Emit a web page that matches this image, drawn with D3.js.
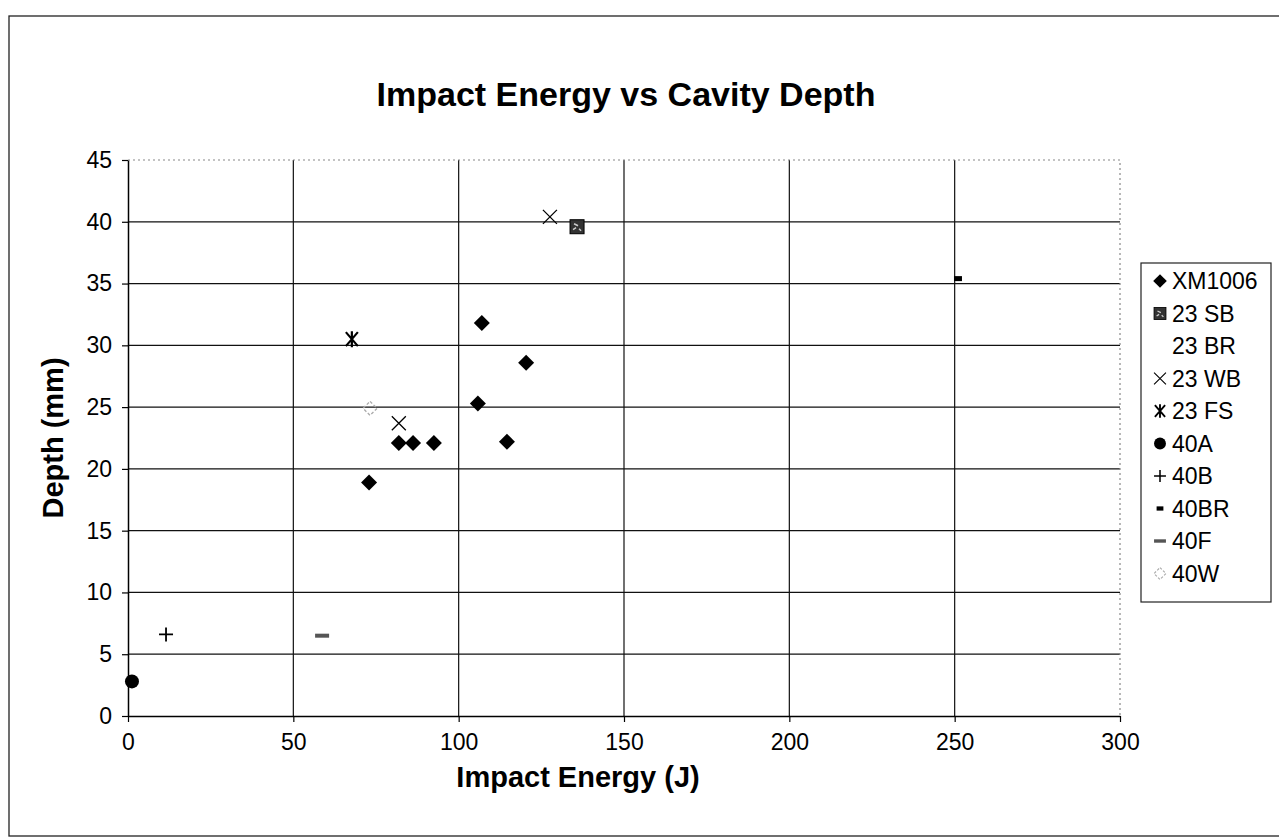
<!DOCTYPE html>
<meta charset="utf-8">
<script src="https://d3js.org/d3.v7.min.js"></script>
<style>
  body { margin: 0; background: #fff; }
  text { font-family: "Liberation Sans", Arial, sans-serif; fill: #000; }
</style>
<div id="chart"></div>
<script>

// data
var seriesNames = ["XM1006", "23 SB", "23 BR", "23 WB", "23 FS", "40A", "40B", "40BR", "40F", "40W"];

var xm1006Energy = [72.9, 81.9, 86.2, 92.5, 105.8, 107.0, 114.6, 120.4];
var xm1006Depth  = [18.9, 22.1, 22.1, 22.1, 25.3, 31.8, 22.2, 28.6];
var sb23Energy = [135.8];
var sb23Depth  = [39.6];
var br23Energy = [];
var br23Depth  = [];
var wb23Energy = [127.6, 81.9];
var wb23Depth  = [40.4, 23.7];
var fs23Energy = [67.7];
var fs23Depth  = [30.5];
var a40Energy = [1.2];
var a40Depth  = [2.8];
var b40Energy = [11.5];
var b40Depth  = [6.6];
var br40Energy = [251.0];
var br40Depth  = [35.4];
var f40Energy = [58.7];
var f40Depth  = [6.5];
var w40Energy = [73.2];
var w40Depth  = [24.9];

var xTicks = [0, 50, 100, 150, 200, 250, 300];
var yTicks = [0, 5, 10, 15, 20, 25, 30, 35, 40, 45];

var energyList = [xm1006Energy, sb23Energy, br23Energy, wb23Energy, fs23Energy, a40Energy, b40Energy, br40Energy, f40Energy, w40Energy];
var depthList  = [xm1006Depth, sb23Depth, br23Depth, wb23Depth, fs23Depth, a40Depth, b40Depth, br40Depth, f40Depth, w40Depth];

var series = seriesNames.map(function(name, i) {
  return {
    name: name,
    values: energyList[i].map(function(e, j) { return {x: e, y: depthList[i][j]}; })
  };
});

var W = 1279, H = 839;
var plotLeft = 128, plotRight = 1120, plotTop = 160, plotBottom = 716;

var svg = d3.select("#chart").append("svg")
  .attr("width", W)
  .attr("height", H);

// outer chart border
svg.append("rect")
  .attr("x", 9).attr("y", 16)
  .attr("width", 1300).attr("height", 820)
  .attr("fill", "none")
  .attr("stroke", "#222")
  .attr("stroke-width", 1.3);

var x = d3.scaleLinear().domain([0, 300]).range([plotLeft, plotRight]);
var y = d3.scaleLinear().domain([0, 45]).range([plotBottom, plotTop]);

// grid lines
svg.append("g")
  .selectAll("line")
  .data(yTicks.filter(function(d) { return d > 0 && d < 45; }))
  .enter().append("line")
    .attr("x1", plotLeft).attr("x2", plotRight)
    .attr("y1", function(d) { return y(d); })
    .attr("y2", function(d) { return y(d); })
    .attr("stroke", "#111")
    .attr("stroke-width", 1.2);

svg.append("g")
  .selectAll("line")
  .data(xTicks.filter(function(d) { return d > 0 && d < 300; }))
  .enter().append("line")
    .attr("x1", function(d) { return x(d); })
    .attr("x2", function(d) { return x(d); })
    .attr("y1", plotTop).attr("y2", plotBottom)
    .attr("stroke", "#111")
    .attr("stroke-width", 1.2);

// top and right edges of the plot are faint dotted
svg.append("path")
  .attr("d", "M" + plotLeft + "," + y(45) + "H" + x(300) + "V" + plotBottom)
  .attr("fill", "none")
  .attr("stroke", "#888")
  .attr("stroke-width", 1.2)
  .attr("stroke-dasharray", "2,3");

// axes
var xAxis = svg.append("g")
  .attr("transform", "translate(0," + plotBottom + ")")
  .call(d3.axisBottom(x).tickValues(xTicks).tickSize(6).tickSizeOuter(0).tickPadding(12));
var yAxis = svg.append("g")
  .attr("transform", "translate(" + plotLeft + ",0)")
  .call(d3.axisLeft(y).tickValues(yTicks).tickSize(6).tickSizeOuter(0).tickPadding(10));

[xAxis, yAxis].forEach(function(a) {
  a.select(".domain").attr("stroke", "#000").attr("stroke-width", 1.5);
  a.selectAll(".tick line").attr("stroke", "#000").attr("stroke-width", 1.2);
  a.selectAll(".tick text")
    .style("font-family", "'Liberation Sans', Arial, sans-serif")
    .style("font-size", "23px")
    .attr("fill", "#000");
});

// titles
svg.append("text")
  .attr("x", 626).attr("y", 106)
  .attr("text-anchor", "middle")
  .style("font-size", "34px")
  .style("font-weight", "bold")
  .text("Impact Energy vs Cavity Depth");

svg.append("text")
  .attr("x", 578).attr("y", 787)
  .attr("text-anchor", "middle")
  .style("font-size", "29px")
  .style("font-weight", "bold")
  .text("Impact Energy (J)");

svg.append("text")
  .attr("transform", "translate(63," + (plotTop + plotBottom) / 2 + ") rotate(-90)")
  .attr("text-anchor", "middle")
  .style("font-size", "29px")
  .style("font-weight", "bold")
  .text("Depth (mm)");

// marker shapes, one per series
function drawMarker(g, name) {
  if (name == "XM1006") {
    g.append("path").attr("d", "M0,-8L8,0L0,8L-8,0Z").attr("fill", "#000");
  } else if (name == "23 SB") {
    g.append("rect").attr("x", -7).attr("y", -7).attr("width", 14).attr("height", 14)
      .attr("fill", "#333").attr("stroke", "#000").attr("stroke-width", 1);
    g.append("path").attr("d", "M-3,-3L1,-1M2,2L4,4M-4,3L-1,1")
      .attr("stroke", "#ccc").attr("stroke-width", 1.5);
  } else if (name == "23 WB") {
    g.append("path").attr("d", "M-7,-7L7,7M-7,7L7,-7")
      .attr("stroke", "#000").attr("stroke-width", 1.3).attr("fill", "none");
  } else if (name == "23 FS") {
    g.append("path").attr("d", "M-6,-7L6,7M-6,7L6,-7M0,-8V8")
      .attr("stroke", "#000").attr("stroke-width", 2.2).attr("fill", "none");
  } else if (name == "40A") {
    g.append("circle").attr("r", 7).attr("fill", "#000");
  } else if (name == "40B") {
    g.append("path").attr("d", "M-7,0H7M0,-7V7")
      .attr("stroke", "#000").attr("stroke-width", 1.8).attr("fill", "none");
  } else if (name == "40BR") {
    g.append("rect").attr("x", -4).attr("y", -2.5).attr("width", 8).attr("height", 5).attr("fill", "#000");
  } else if (name == "40F") {
    g.append("rect").attr("x", -7).attr("y", -2).attr("width", 14).attr("height", 4).attr("fill", "#555");
  } else if (name == "40W") {
    g.append("path").attr("d", "M0,-7L7,0L0,7L-7,0Z")
      .attr("fill", "none").attr("stroke", "#aaa").attr("stroke-width", 1.3)
      .attr("stroke-dasharray", "3,2");
  }
}

// points
series.forEach(function(s) {
  svg.append("g")
    .selectAll("g")
    .data(s.values)
    .enter().append("g")
      .attr("transform", function(d) { return "translate(" + x(d.x) + "," + y(d.y) + ")"; })
      .each(function() { drawMarker(d3.select(this), s.name); });
});

// legend
var legend = svg.append("g");
legend.append("rect")
  .attr("x", 1141).attr("y", 263)
  .attr("width", 130).attr("height", 339)
  .attr("fill", "#fff")
  .attr("stroke", "#222")
  .attr("stroke-width", 1.2);

var items = legend.selectAll("g.item")
  .data(series)
  .enter().append("g")
    .attr("class", "item")
    .attr("transform", function(d, i) { return "translate(1160," + (281 + i * 32.5) + ")"; });

items.each(function(d) {
  var g = d3.select(this).append("g").attr("transform", "scale(0.85)");
  drawMarker(g, d.name);
});

items.append("text")
  .attr("x", 12)
  .attr("dy", "0.36em")
  .style("font-size", "23px")
  .text(function(d) { return d.name; });

</script>
